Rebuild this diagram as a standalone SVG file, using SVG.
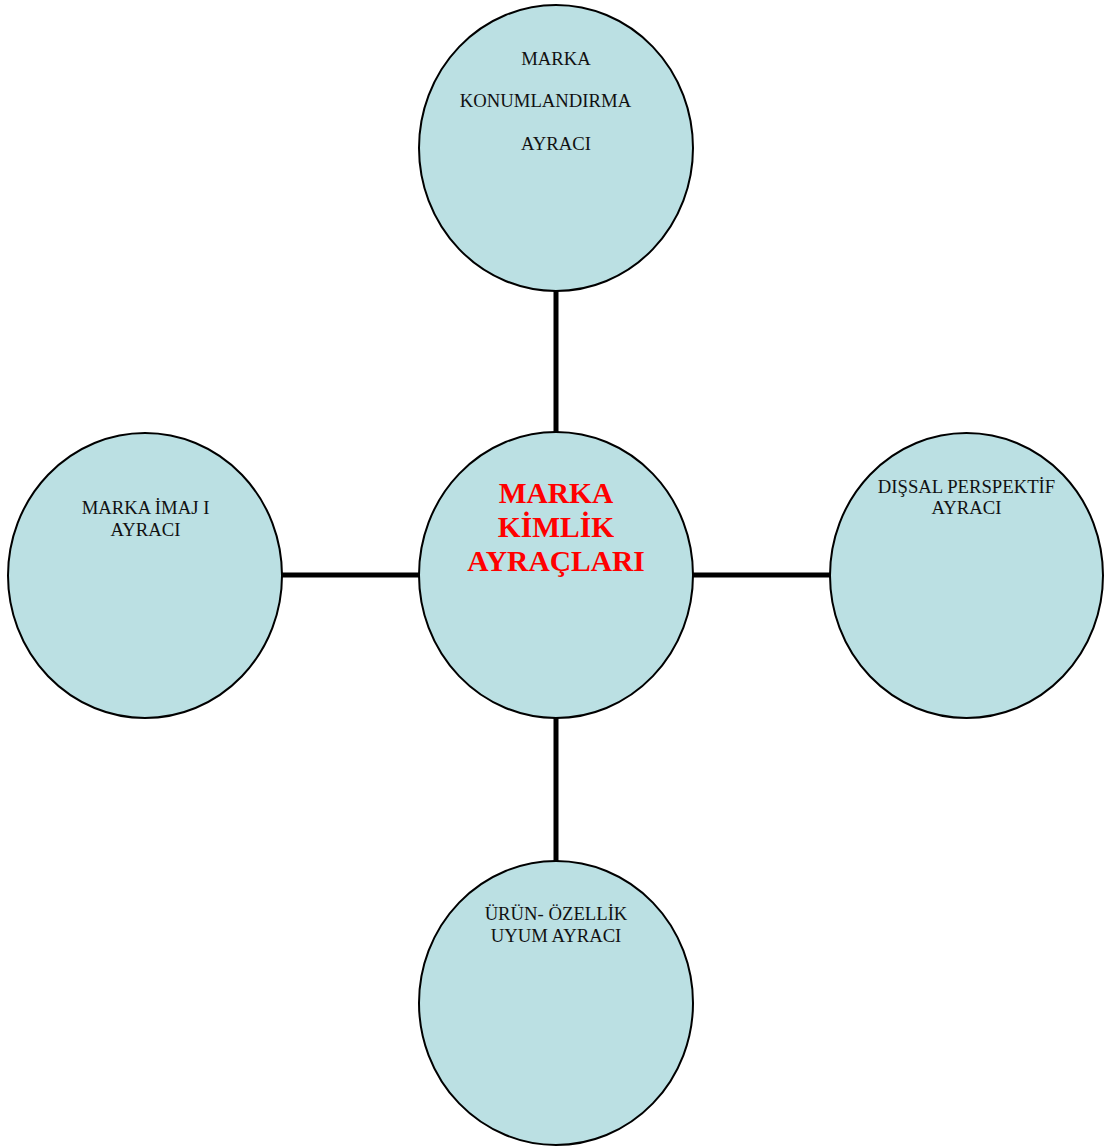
<svg xmlns="http://www.w3.org/2000/svg" width="1107" height="1146" viewBox="0 0 1107 1146">
<style>
.node{fill:#BBE0E3;stroke:#000;stroke-width:2}
.lbl{font-family:"Liberation Serif","Times New Roman",serif;font-size:18.7px;fill:#111;text-anchor:middle}
.main{font-family:"Liberation Serif","Times New Roman",serif;font-size:29.5px;font-weight:bold;fill:#FF0000;text-anchor:middle}
.conn{stroke:#000;stroke-width:5;fill:none}
</style>
<rect width="1107" height="1146" fill="#fff"/>
<g id="connectors">
<line class="conn" x1="556" y1="290" x2="556" y2="434"/>
<line class="conn" x1="556" y1="717" x2="556" y2="862"/>
<line class="conn" x1="281" y1="575" x2="420" y2="575"/>
<line class="conn" x1="692" y1="575" x2="831" y2="575"/>
</g>
<g id="node-top">
<ellipse class="node" cx="556" cy="148" rx="137" ry="143"/>
<text class="lbl" x="556" y="65">MARKA</text>
<text class="lbl" x="545.5" y="107">KONUMLANDIRMA</text>
<text class="lbl" x="556" y="150">AYRACI</text>
</g>
<g id="node-center">
<ellipse class="node" cx="556" cy="575" rx="137" ry="143"/>
<text class="main" x="556" y="503">MARKA</text>
<text class="main" x="556" y="537">KİMLİK</text>
<text class="main" x="556" y="571">AYRAÇLARI</text>
</g>
<g id="node-left">
<ellipse class="node" cx="145" cy="575.5" rx="137" ry="142.5"/>
<text class="lbl" x="145.5" y="514">MARKA İMAJ I</text>
<text class="lbl" x="145.5" y="536">AYRACI</text>
</g>
<g id="node-right">
<ellipse class="node" cx="966.5" cy="575.5" rx="136.5" ry="142.5"/>
<text class="lbl" x="966.5" y="493">DIŞSAL PERSPEKTİF</text>
<text class="lbl" x="966.5" y="514">AYRACI</text>
</g>
<g id="node-bottom">
<ellipse class="node" cx="556" cy="1003" rx="137" ry="142"/>
<text class="lbl" x="556" y="920">ÜRÜN- ÖZELLİK</text>
<text class="lbl" x="556" y="942">UYUM AYRACI</text>
</g>
</svg>
